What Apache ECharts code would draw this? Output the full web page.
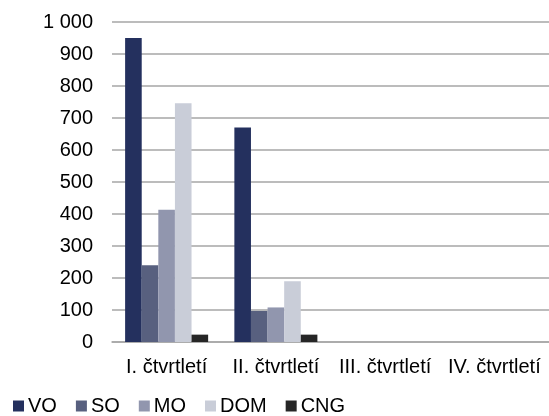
<!DOCTYPE html>
<html>
<head>
<meta charset="utf-8">
<script src="https://cdn.jsdelivr.net/npm/echarts@6/dist/echarts.min.js"></script>
<style>
  html, body { margin: 0; padding: 0; background: #fff; }
  #chart { width: 549px; height: 416px; }
</style>
</head>
<body>
<div id="chart"></div>
<script>
const quarters = ['I. čtvrtletí', 'II. čtvrtletí', 'III. čtvrtletí', 'IV. čtvrtletí'];
const seriesNames = ['VO', 'SO', 'MO', 'DOM', 'CNG'];
const valuesVO = [950, 670, null, null];
const valuesSO = [240, 97, null, null];
const valuesMO = [413, 108, null, null];
const valuesDOM = [746, 190, null, null];
const valuesCNG = [23, 23, null, null];
const colors = ['#24305e', '#58607f', '#9196ae', '#c9cdd8', '#262626'];

const chart = echarts.init(document.getElementById('chart'));
const allValues = [valuesVO, valuesSO, valuesMO, valuesDOM, valuesCNG];

chart.setOption({
  animation: false,
  color: colors,
  textStyle: { fontFamily: 'Liberation Sans, Arial, sans-serif' },
  grid: { left: 112, right: 0, top: 22, bottom: 74 },
  legend: {
    left: 8,
    top: 391,
    itemWidth: 11,
    itemHeight: 11,
    itemGap: 19,
    icon: 'rect',
    textStyle: { fontSize: 20, color: '#000', padding: [0, 0, 0, -1] },
    data: seriesNames
  },
  xAxis: {
    type: 'category',
    data: quarters,
    axisTick: { show: false },
    axisLine: { lineStyle: { color: '#a6a6a6', width: 1.5 } },
    axisLabel: { color: '#000', fontSize: 20, margin: 15, interval: 0 }
  },
  yAxis: {
    type: 'value',
    min: 0,
    max: 1000,
    interval: 100,
    axisLine: { show: false },
    axisTick: { show: false },
    splitLine: { lineStyle: { color: '#a6a6a6', width: 1.5 } },
    axisLabel: {
      color: '#000',
      fontSize: 20,
      margin: 19,
      formatter: v => v >= 1000 ? String(v).replace(/\B(?=(\d{3})+(?!\d))/g, ' ') : String(v)
    }
  },
  series: seriesNames.map((name, i) => ({
    name: name,
    type: 'bar',
    data: allValues[i],
    barGap: '0%',
    barCategoryGap: '24%'
  }))
});
</script>
</body>
</html>
